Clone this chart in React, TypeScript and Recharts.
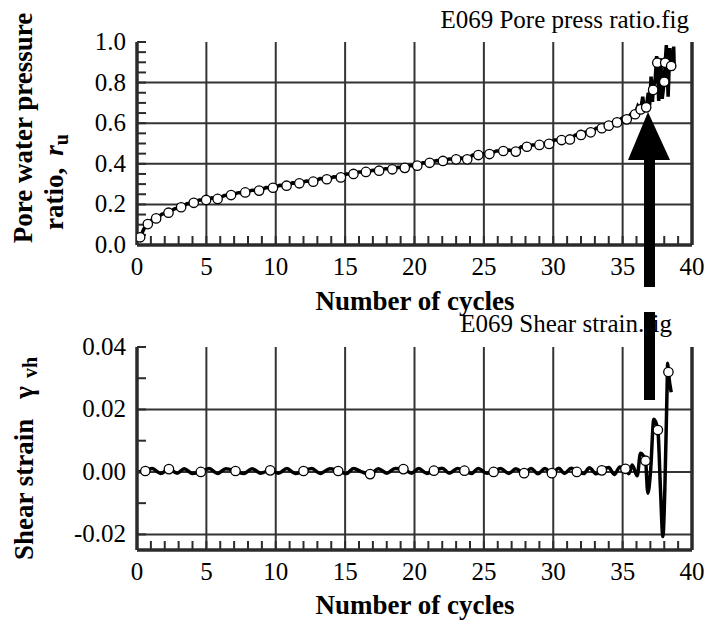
import React from 'react';
import { LineChart, Line, XAxis, YAxis, CartesianGrid } from 'recharts';

const FONT = '"Liberation Serif", "Times New Roman", Times, serif';
const AX = '#2b2b2b';

// ---------- axes ----------
const cycleTicks = [0,1,2,3,4,5,6,7,8,9,10,11,12,13,14,15,16,17,18,19,20,21,22,23,24,25,26,27,28,29,30,31,32,33,34,35,36,37,38,39,40];
const cycleLabels = [0,5,10,15,20,25,30,35,40];
const cycleGrid = [5,10,15,20,25,30,35];
const ruTicks = [0,0.05,0.1,0.15,0.2,0.25,0.3,0.35,0.4,0.45,0.5,0.55,0.6,0.65,0.7,0.75,0.8,0.85,0.9,0.95,1.0];
const ruLabels = [0,0.2,0.4,0.6,0.8,1.0];
const ruGrid = [0.2,0.4,0.6,0.8];
const strainTicks = [-0.02,-0.01,0,0.01,0.02,0.03,0.04];
const strainLabels = [-0.02,0,0.02,0.04];
const strainGrid = [-0.02,0,0.02];

// ---------- pore pressure ratio ----------
const ruCircleCycles = [0.23,0.78,1.38,2.27,3.18,4.09,4.98,5.81,6.78,7.8,8.8,9.8,10.78,11.7,12.7,13.68,14.69,15.6,16.5,17.45,18.4,19.3,20.2,21.09,22.05,23.0,23.8,24.6,25.4,26.4,27.3,28.1,29.0,29.7,30.6,31.2,32.0,32.7,33.5,34.0,34.6,35.3,35.9,36.3,36.7,37.2,37.5,38.0,38.07,38.5];
const ruCircleValues = [0.038,0.103,0.131,0.159,0.186,0.208,0.222,0.227,0.246,0.259,0.268,0.282,0.292,0.304,0.312,0.324,0.333,0.35,0.36,0.366,0.373,0.38,0.391,0.405,0.414,0.422,0.422,0.443,0.448,0.463,0.46,0.484,0.493,0.498,0.517,0.52,0.542,0.555,0.575,0.588,0.604,0.619,0.644,0.668,0.678,0.764,0.898,0.804,0.898,0.882];

const ruLineCycles = [0.05,0.23,0.5,0.78,1.1,1.38,1.8,2.27,2.7,3.18,3.6,4.09,4.5,4.98,5.4,5.81,6.3,6.78,7.3,7.8,8.3,8.8,9.3,9.8,10.3,10.78,11.2,11.7,12.2,12.7,13.2,13.68,14.2,14.69,15.1,15.6,16.0,16.5,17.0,17.45,17.9,18.4,18.8,19.3,19.7,20.2,20.6,21.09,21.6,22.05,22.5,23.0,23.4,23.8,24.2,24.6,25.0,25.4,25.9,26.4,26.8,27.3,27.7,28.1,28.5,29.0,29.3,29.7,30.1,30.6,30.9,31.2,31.6,32.0,32.3,32.7,33.1,33.5,33.75,34.0,34.3,34.6,34.95,35.3,35.6,35.9,36.1,36.3,36.45,36.55,36.7,36.85,36.95,37.05,37.15,37.2,37.35,37.45,37.5,37.6,37.75,37.85,38.0,38.07,38.15,38.28,38.4,38.5,38.6,38.68,38.72];
const ruLineValues = [0.02,0.038,0.08,0.103,0.125,0.131,0.152,0.159,0.178,0.186,0.203,0.208,0.222,0.222,0.232,0.227,0.244,0.246,0.258,0.259,0.27,0.268,0.283,0.282,0.294,0.292,0.306,0.304,0.315,0.312,0.327,0.324,0.336,0.333,0.35,0.35,0.36,0.36,0.368,0.366,0.376,0.373,0.383,0.38,0.392,0.391,0.405,0.405,0.416,0.414,0.424,0.422,0.428,0.422,0.443,0.443,0.45,0.448,0.463,0.463,0.468,0.46,0.484,0.484,0.493,0.493,0.5,0.498,0.517,0.517,0.522,0.52,0.542,0.542,0.555,0.555,0.575,0.575,0.59,0.588,0.605,0.604,0.625,0.619,0.645,0.644,0.685,0.668,0.73,0.67,0.678,0.75,0.69,0.83,0.705,0.764,0.82,0.93,0.898,0.71,0.92,0.72,0.804,0.898,0.985,0.73,0.97,0.882,0.86,0.977,0.87];

// ---------- shear strain ----------
const strainCircleCycles = [0.6,2.3,4.6,7.1,9.6,12.0,14.5,16.8,19.2,21.4,23.6,25.7,27.9,29.9,31.7,33.5,35.2,36.65,37.54,38.3];
const strainCircleValues = [0.0003,0.0009,0.0,0.0003,0.0005,0.0003,0.0003,-0.0007,0.0009,0.0004,0.0004,0.0,-0.0004,-0.0004,0.0,0.0005,0.001,0.0036,0.0134,0.032];

const strainLineCycles = [0,0.6,1.1,1.7,2.3,2.9,3.4,4.0,4.6,5.2,5.8,6.4,7.1,7.7,8.3,8.9,9.6,10.2,10.8,11.4,12.0,12.6,13.2,13.9,14.5,15.1,15.6,16.2,16.8,17.4,18.0,18.6,19.2,19.8,20.3,20.9,21.4,22.0,22.5,23.1,23.6,24.1,24.6,25.2,25.7,26.2,26.8,27.3,27.9,28.4,28.9,29.4,29.9,30.4,30.8,31.3,31.7,32.2,32.6,33.1,33.5,34.0,34.4,34.8,35.2,35.45,35.69,36.05,36.29,36.65,36.82,37.01,37.25,37.54,37.73,37.9,38.04,38.2,38.25,38.3,38.5];
const strainLineValues = [0.0,0.0003,0.0011,-0.0005,0.0009,-0.0004,0.001,-0.0005,0.0,0.0011,-0.0005,0.001,0.0003,-0.0005,0.001,-0.0004,0.0005,-0.0004,0.0011,-0.0005,0.0003,0.0011,-0.0005,0.001,0.0003,-0.0005,0.0011,0.0,-0.0007,0.001,-0.0004,0.0011,0.0009,-0.0004,0.0011,-0.0005,0.0004,0.0012,-0.0004,0.0011,0.0004,-0.0005,0.0011,-0.0004,0.0,0.0011,-0.0005,0.001,-0.0004,0.0011,-0.0006,0.0011,-0.0004,0.0012,-0.0005,0.0012,0.0,-0.0005,0.0013,-0.0006,0.0005,0.0014,-0.0008,0.0016,0.001,-0.0006,0.0022,-0.0012,0.006,0.0036,-0.0068,0.0,0.0169,0.0134,-0.0058,-0.0207,-0.006,0.026,0.0348,0.032,0.0255];

const zip = (xs: number[], ys: number[]) => xs.map((c, i) => ({ c, v: ys[i] }));
const ruLine = zip(ruLineCycles, ruLineValues);
const ruCircles = zip(ruCircleCycles, ruCircleValues);
const strainLine = zip(strainLineCycles, strainLineValues);
const strainCircles = zip(strainCircleCycles, strainCircleValues);

const near = (list: number[], v: number) => list.some((l) => Math.abs(l - v) < 1e-9);
const serif = { fontFamily: FONT };

const XTick = (props: any) => {
  const { x, y, payload } = props;
  if (!near(cycleLabels, payload.value)) return <g />;
  return (
    <text x={x} y={y} dy={18} textAnchor="middle" fontSize={25} fontFamily={FONT} style={serif} fill="#000">
      {payload.value}
    </text>
  );
};

const makeYTick = (labels: number[], digits: number) => (props: any) => {
  const { x, y, payload } = props;
  if (!near(labels, payload.value)) return <g />;
  return (
    <text x={x} y={y} dy={8} textAnchor="end" fontSize={25} fontFamily={FONT} style={serif} fill="#000">
      {payload.value.toFixed(digits)}
    </text>
  );
};
const RuTick = makeYTick(ruLabels, 1);
const StrainTick = makeYTick(strainLabels, 2);

const axisLine = { stroke: AX, strokeWidth: 3.5 };
const tickLine = { stroke: AX, strokeWidth: 2 };
const dotStyle = { r: 4.7, fill: '#fff', stroke: '#000', strokeWidth: 1.3 };

export default function App() {
  return (
    <div style={{ position: 'absolute', left: 0, top: 0, width: 712, height: 623, background: '#fff', fontFamily: FONT }}>
      <div style={{ position: 'absolute', left: 0, top: 0 }}>
        <LineChart width={712} height={320} margin={{ top: 42, right: 19, bottom: 40, left: 77 }}>
          <CartesianGrid stroke="#333" strokeWidth={2} verticalValues={cycleGrid} horizontalValues={ruGrid} />
          <XAxis type="number" dataKey="c" domain={[0, 40]} ticks={cycleTicks} interval={0} height={35}
            tickSize={-9} tickMargin={21} axisLine={axisLine} tickLine={tickLine} tick={<XTick />} allowDataOverflow />
          <XAxis xAxisId="t" orientation="top" type="number" domain={[0, 40]} ticks={cycleTicks} interval={0} height={0}
            tickSize={-9} axisLine={axisLine} tickLine={tickLine} tick={false} allowDataOverflow />
          <YAxis type="number" dataKey="v" domain={[0, 1]} ticks={ruTicks} interval={0} width={60}
            tickSize={-9} tickMargin={20} axisLine={axisLine} tickLine={tickLine} tick={<RuTick />} allowDataOverflow />
          <YAxis yAxisId="r" orientation="right" type="number" domain={[0, 1]} ticks={ruTicks} interval={0} width={1}
            tickSize={-9} axisLine={axisLine} tickLine={tickLine} tick={false} allowDataOverflow />
          <Line data={ruLine} dataKey="v" type="linear" stroke="#000" strokeWidth={3.5} dot={false} activeDot={false} isAnimationActive={false} />
          <Line data={ruCircles} dataKey="v" stroke="none" dot={dotStyle} activeDot={false} isAnimationActive={false} />
          <text x={689} y={28} textAnchor="end" fontSize={25} style={serif} fill="#000">E069 Pore press ratio.fig</text>
          <text x={415} y={310} textAnchor="middle" fontSize={27} fontWeight="bold" style={serif} fill="#000">Number of cycles</text>
          <text transform="translate(32,128) rotate(-90)" textAnchor="middle" fontSize={27} fontWeight="bold" style={serif} fill="#000">Pore water pressure</text>
          <text transform="translate(63,182) rotate(-90)" textAnchor="middle" fontSize={27} fontWeight="bold" style={serif} fill="#000">
            ratio,<tspan dx={12} fontStyle="italic">r</tspan><tspan fontSize={20} dy={5}>u</tspan>
          </text>
        </LineChart>
      </div>
      <div style={{ position: 'absolute', left: 0, top: 300 }}>
        <LineChart width={712} height={323} margin={{ top: 47, right: 19, bottom: 38, left: 77 }}>
          <CartesianGrid stroke="#333" strokeWidth={2} verticalValues={cycleGrid} horizontalValues={strainGrid} />
          <XAxis type="number" dataKey="c" domain={[0, 40]} ticks={cycleTicks} interval={0} height={35}
            tickSize={-9} tickMargin={21} axisLine={axisLine} tickLine={tickLine} tick={<XTick />} allowDataOverflow />
          <XAxis xAxisId="t" orientation="top" type="number" domain={[0, 40]} ticks={cycleTicks} interval={0} height={0}
            tickSize={-9} axisLine={axisLine} tickLine={tickLine} tick={false} allowDataOverflow />
          <YAxis type="number" dataKey="v" domain={[-0.025, 0.04]} ticks={strainTicks} interval={0} width={60}
            tickSize={-9} tickMargin={20} axisLine={axisLine} tickLine={tickLine} tick={<StrainTick />} allowDataOverflow />
          <YAxis yAxisId="r" orientation="right" type="number" domain={[-0.025, 0.04]} ticks={strainTicks} interval={0} width={1}
            tickSize={-9} axisLine={axisLine} tickLine={tickLine} tick={false} allowDataOverflow />
          <Line data={strainLine} dataKey="v" type="monotone" stroke="#000" strokeWidth={3.5} dot={false} activeDot={false} isAnimationActive={false} />
          <Line data={strainCircles} dataKey="v" stroke="none" dot={dotStyle} activeDot={false} isAnimationActive={false} />
          <text x={672} y={32} textAnchor="end" fontSize={25} style={serif} fill="#000">E069 Shear strain.fig</text>
          <text x={415} y={314} textAnchor="middle" fontSize={27} fontWeight="bold" style={serif} fill="#000">Number of cycles</text>
          <text transform="translate(33,260) rotate(-90)" textAnchor="start" fontSize={27} fontWeight="bold" style={serif} fill="#000">
            Shear strain<tspan dx={20}>γ</tspan><tspan dx={8} fontSize={20} dy={4}>vh</tspan>
          </text>
        </LineChart>
      </div>
      <svg width={712} height={623} style={{ position: 'absolute', left: 0, top: 0, pointerEvents: 'none' }}>
        <polygon points="648,112 628,160 670,160" fill="#000" />
        <rect x={644} y={159} width={11} height={128} fill="#000" />
        <rect x={644} y={312} width={11} height={88} fill="#000" />
      </svg>
    </div>
  );
}
